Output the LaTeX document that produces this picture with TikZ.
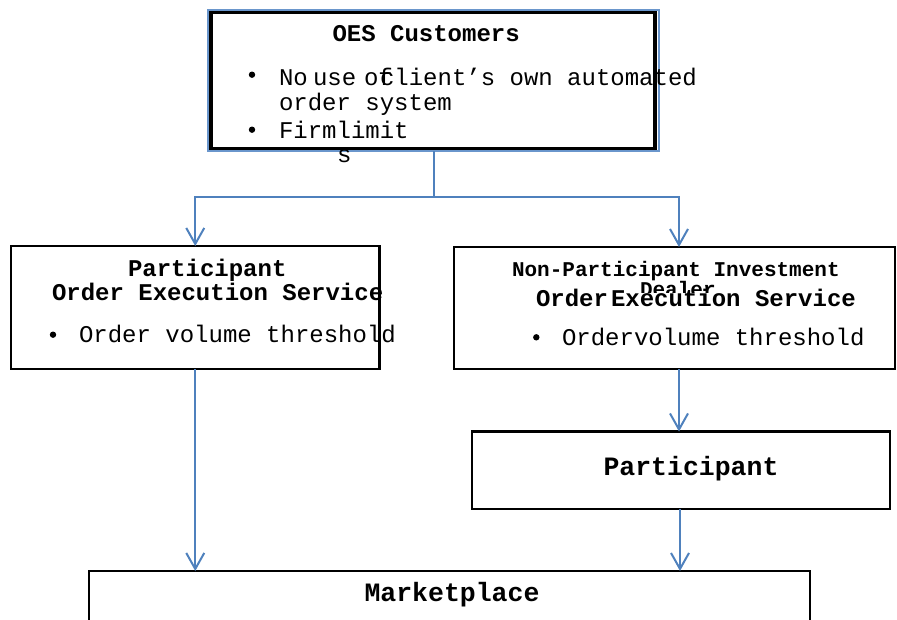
\documentclass[tikz,border=0pt]{standalone}
\usepackage{fontspec}
\setmainfont{Liberation Mono}
\usetikzlibrary{arrows.meta}
\definecolor{flowblue}{HTML}{4F81BD}
\definecolor{rimblue}{HTML}{6A96CC}
\tikzset{
  box/.style={draw=black, line width=2.2pt, rectangle, inner sep=0pt, outer sep=0pt},
  conn/.style={draw=flowblue, line width=2pt, -{Straight Barb[length=16pt,width=18pt,line width=2pt]}},
  plainline/.style={draw=flowblue, line width=2pt},
  body/.style={inner sep=0pt, outer sep=0pt, anchor=base west, font=\fontsize{24}{24}\selectfont},
  head/.style={body, font=\fontsize{24}{24}\selectfont\bfseries},
  smallhead/.style={body, font=\fontsize{21}{21}\selectfont\bfseries},
  bighead/.style={inner sep=0pt, outer sep=0pt, anchor=base, font=\fontsize{26.5}{26.5}\selectfont\bfseries},
  dot/.style={circle, fill=black, inner sep=0pt, minimum size=6.4pt},
}
\begin{document}
\begin{tikzpicture}[x=1pt, y=-1pt]
\useasboundingbox (0,0) rectangle (897,619);
\clip (0,0) rectangle (897,619);

% boxes
\node[box, line width=3.3pt, minimum width=444pt, minimum height=136.7pt] (oes) at (433,80.65) {};
\draw[draw=rimblue, line width=2pt] ([shift={(-2.7,-2.5)}]oes.north west) rectangle ([shift={(3.5,2.3)}]oes.south east);
\node[box, minimum width=368.5pt, minimum height=123pt] (pes) at (195.25,307.5) {};
\node[box, minimum width=441.6pt, minimum height=122pt] (npes) at (674.5,308) {};
\node[box, minimum width=418pt, minimum height=77.5pt] (part) at (681,470.25) {};
\node[box, minimum width=721pt, minimum height=89pt] (market) at (449.5,615.5) {};

% OES customers
\node[head] (oestitle) at (332.5,41.5) {OES Customers};
\node[dot] (oesb1) at (252,74.7) {};
\node[body] (w1) at (279,85) {No};
\node[body] (w2) at (313,85) {use};
\node[body] (w3) at (364,85) {of};
\node[body] (w4) at (380,85) {client’s own automated};
\node[body] (w5) at (279,110) {order system};
\node[dot] (oesb2) at (252,129.7) {};
\node[body] (w6) at (279,138) {Firmlimit};
\node[body] (w7) at (337,162) {s};

% participant order execution service
\node[head] (pestitle) at (128,276) {Participant};
\node[head] (pessub) at (52,300) {Order Execution Service};
\node[dot] (pesb) at (53,334.7) {};
\node[body] (pesitem) at (79,342) {Order volume threshold};

% non-participant investment dealer order execution service
\node[smallhead] (npestitle) at (512,276) {Non-Participant Investment};
\begin{scope}
  \clip (600,270) rectangle (760,292.5);
  \node[smallhead] (npesdealer) at (640,296) {Dealer};
\end{scope}
\node[head] (npessub1) at (536,306) {Order};
\node[head] (npessub2) at (611,306) {Execution Service};
\node[dot] (npesb) at (536.3,337.3) {};
\node[body] (npesitem) at (562,345) {Ordervolume threshold};

% participant and marketplace
\node[bighead] (parttext) at (691,475) {Participant};
\node[bighead] (markettext) at (452,601) {Marketplace};

% connectors
\coordinate (split) at ([xshift=1pt,yshift=-48pt]oes.south);
\draw[plainline] ([xshift=1pt,yshift=-2pt]oes.south) -- (split);
\draw[conn] (split) -| (pes.north);
\draw[conn] (split) -| ([xshift=4.5pt]npes.north);
\draw[conn] (pes.south) -- (pes.south |- market.north);
\draw[conn] ([xshift=4.5pt]npes.south) -- ([xshift=4.5pt]npes.south |- part.north);
\draw[conn] ([xshift=-1pt]part.south) -- ([xshift=-1pt]part.south |- market.north);
\end{tikzpicture}
\end{document}
